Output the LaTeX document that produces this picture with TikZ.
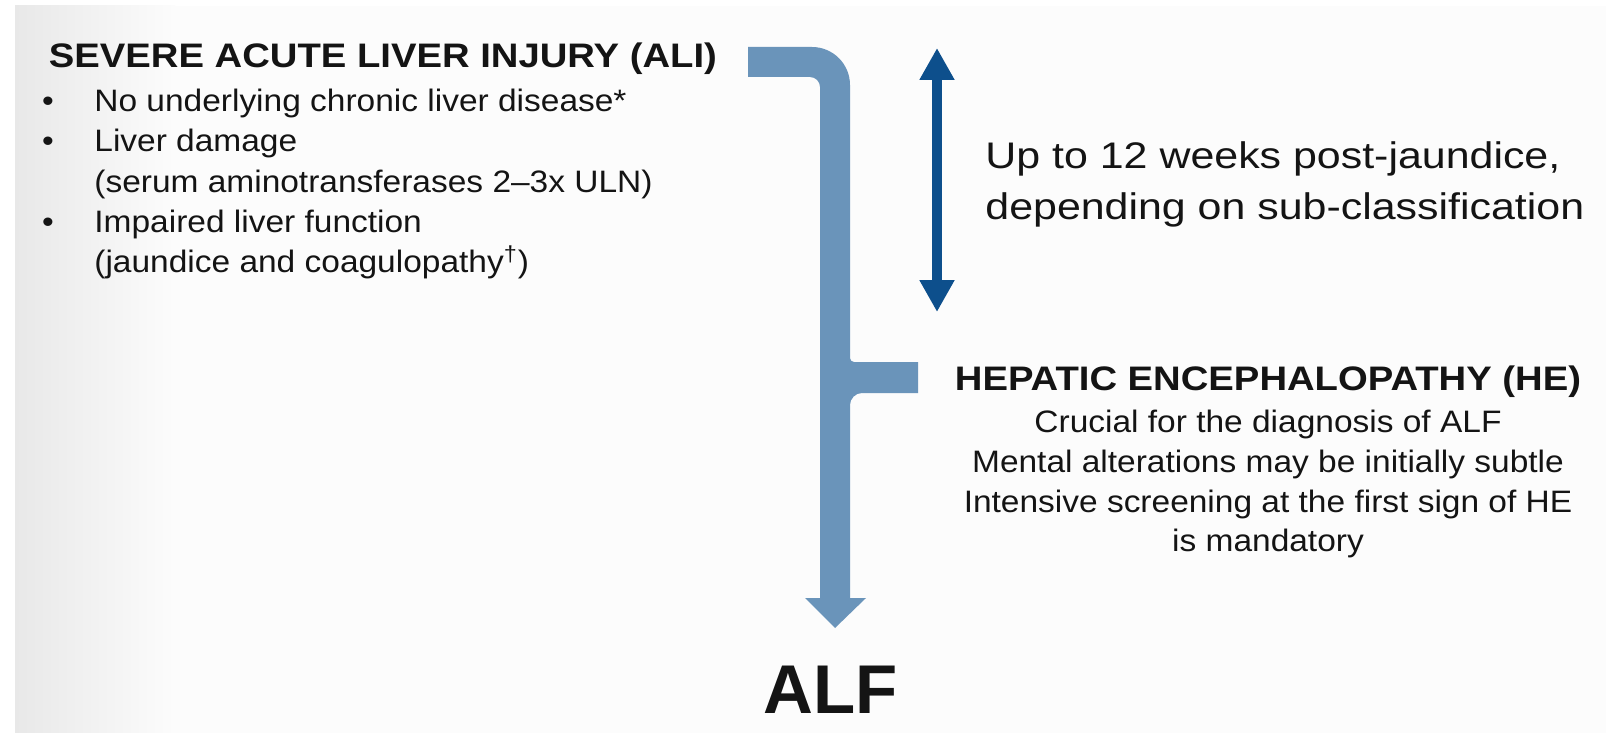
\documentclass[tikz,border=0pt]{standalone}
\usepackage{fontspec}
\setmainfont{Liberation Sans}
\newfontfamily\bodyf{Liberation Sans}[FakeStretch=1.08]
\newfontfamily\headf{Liberation Sans}[FakeStretch=1.125]
\newfontfamily\bigf{Liberation Sans}[FakeStretch=1.16]
\usetikzlibrary{arrows.meta}
\definecolor{mainblue}{RGB}{106,148,186}
\definecolor{darkblue}{RGB}{13,79,140}
\definecolor{txt}{RGB}{20,20,20}
\definecolor{slidebg}{RGB}{252,252,252}
\begin{document}
\begin{tikzpicture}[x=0.5pt,y=-0.5pt,
  every node/.style={inner sep=0pt, text=txt},
  bodytxt/.style={font=\bodyf\fontsize{15.5pt}{18pt}\selectfont, anchor=base west},
  centertxt/.style={font=\bodyf\fontsize{15.5pt}{18pt}\selectfont, anchor=base},
  headtxt/.style={font=\headf\bfseries\fontsize{17pt}{20pt}\selectfont, anchor=base west},
  bigtxt/.style={font=\bigf\fontsize{18.5pt}{22pt}\selectfont, anchor=base west},
  alftxt/.style={font=\bfseries\fontsize{34.5pt}{40pt}\selectfont, anchor=base},
  bullet/.style={font=\bodyf\fontsize{15.5pt}{18pt}\selectfont, anchor=base},
  durarrow/.style={draw=darkblue, line width=5pt, {Triangle[width=16.5pt,length=16pt]}-{Triangle[width=16.5pt,length=16pt]}}
]
\useasboundingbox (0,0) rectangle (1606,733);
% background
\fill[white] (0,0) rectangle (1606,733);
\fill[slidebg] (15,6) rectangle (1606,733);
\shade[left color=black!9, right color=slidebg] (15,6) rectangle (175,733);

% main thick arrow
\coordinate (astart) at (748,47);
\coordinate (atip) at (835,628);
\fill[mainblue] (astart) -- (812,47) .. controls (833,47) and (850,64) .. (850,85)
  -- (850,358) .. controls (850,360.2) and (851.8,362) .. (854,362)
  -- (918,362) -- (918,393) -- (862,393) .. controls (855.4,393) and (850,398.6) .. (850,405)
  -- (850,598) -- (866,598) -- (atip) -- (805,598) -- (820,598)
  -- (820,87) .. controls (820,81.5) and (815.5,77) .. (810,77)
  -- (748,77) -- cycle;

% duration arrow
\coordinate (dtop) at (937,48);
\coordinate (dbot) at (937,312);
\draw[durarrow] (dbot) -- (dtop);

% left block
\node[headtxt] (ali) at (48.5,68) {SEVERE ACUTE LIVER INJURY (ALI)};
\node[bullet] (b1) at (48,112) {•};
\node[bodytxt] (t1) at (94,112) {No underlying chronic liver disease*};
\node[bullet] (b2) at (48,152) {•};
\node[bodytxt] (t2) at (94,152) {Liver damage};
\node[bodytxt] (t2b) at (94,192) {(serum aminotransferases 2–3x ULN)};
\node[bullet] (b3) at (48,232) {•};
\node[bodytxt] (t3) at (94,232) {Impaired liver function};
\node[bodytxt] (t3b) at (94,272) {(jaundice and coagulopathy\textsuperscript{†})};

% duration text
\node[bigtxt] (up1) at (985,169) {Up to 12 weeks post-jaundice,};
\node[bigtxt] (up2) at (985,219) {depending on sub-classification};

% HE block
\node[headtxt, anchor=base] (he) at (1268,390) {HEPATIC ENCEPHALOPATHY (HE)};
\node[centertxt] (h1) at (1268,432) {Crucial for the diagnosis of ALF};
\node[centertxt] (h2) at (1268,472) {Mental alterations may be initially subtle};
\node[centertxt] (h3) at (1268,512) {Intensive screening at the first sign of HE};
\node[centertxt] (h4) at (1268,551) {is mandatory};

% ALF
\node[alftxt] (alf) at (831,713) {ALF};
\end{tikzpicture}
\end{document}
